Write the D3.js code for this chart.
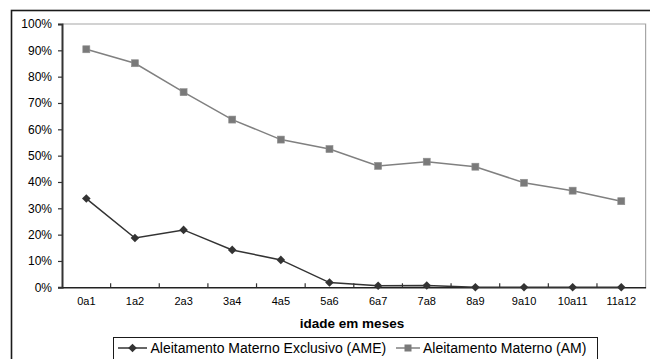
<!DOCTYPE html>
<html>
<head>
<meta charset="utf-8">
<script src="https://cdn.jsdelivr.net/npm/d3@7"></script>
<style>
html,body{margin:0;padding:0;background:#fff;}
svg{display:block;font-family:"Liberation Sans",Arial,sans-serif;}
</style>
</head>
<body>
<svg id="c" width="650" height="359"></svg>
<script>
const categories = ["0a1","1a2","2a3","3a4","4a5","5a6","6a7","7a8","8a9","9a10","10a11","11a12"];
const ameValues = [0.337,0.187,0.218,0.142,0.104,0.018,0.006,0.007,0.0,0.0,0.0,0.0];
const amValues  = [0.904,0.851,0.741,0.637,0.561,0.525,0.461,0.477,0.458,0.397,0.367,0.327];
const yTicks = [0,0.1,0.2,0.3,0.4,0.5,0.6,0.7,0.8,0.9,1.0];
const seriesNames = ["Aleitamento Materno Exclusivo (AME)","Aleitamento Materno (AM)"];
const xTitle = "idade em meses";

const svg = d3.select("#c");
const L = 62, R = 645.6, T = 24, B = 287.3;
const x = d3.scaleBand().domain(categories).range([L, R]).padding(0);
const y = d3.scaleLinear().domain([0,1]).range([B, T]);

// outer frame
svg.append("rect").attr("x",11.5).attr("y",10.5).attr("width",700).attr("height",400)
  .attr("fill","none").attr("stroke","#1a1a1a").attr("stroke-width",1.6);

// plot area border (top & right)
svg.append("path").attr("d",`M${L},${T}H${R}V${B}`).attr("fill","none")
  .attr("stroke","#a6a6a6").attr("stroke-width",1.2);

// y axis
const yAxis = svg.append("g").attr("transform",`translate(${L},0)`)
  .call(d3.axisLeft(y).tickValues(yTicks).tickSize(4).tickPadding(6).tickFormat(d3.format(".0%")));
yAxis.select(".domain").attr("stroke","#333").attr("stroke-width",2);
yAxis.selectAll(".tick line").attr("stroke","#333").attr("stroke-width",1.2);
yAxis.selectAll("text").attr("font-size","12px").attr("fill","#000").attr("font-family","Liberation Sans, Arial, sans-serif");

// x axis
const xAxis = svg.append("g").attr("transform",`translate(0,${B})`)
  .call(d3.axisBottom(x).tickSize(0).tickPadding(10));
xAxis.select(".domain").attr("stroke","#222").attr("stroke-width",1.6);
xAxis.selectAll("text").attr("font-size","11px").attr("fill","#000").attr("font-family","Liberation Sans, Arial, sans-serif");
// boundary ticks pointing up
const bounds = categories.slice(1).map(c => x(c));
svg.append("g").selectAll("line").data(bounds).join("line")
  .attr("x1",d=>d).attr("x2",d=>d).attr("y1",B).attr("y2",B-4)
  .attr("stroke","#333").attr("stroke-width",1.2);

// x title
svg.append("text").attr("x",352).attr("y",328).attr("text-anchor","middle")
  .attr("font-size","13.5px").attr("font-weight","bold").text(xTitle);

const cx = d => x(d) + x.bandwidth()/2;
const line = vals => d3.line().x((d,i)=>cx(categories[i])).y(d=>y(d))(vals);

// AM series
svg.append("path").attr("d",line(amValues)).attr("fill","none").attr("stroke","#808080").attr("stroke-width",1.5);
svg.append("g").selectAll("rect").data(amValues).join("rect")
  .attr("x",(d,i)=>cx(categories[i])-3.5).attr("y",d=>y(d)-3.5)
  .attr("width",7).attr("height",7).attr("fill","#7a7a7a").attr("stroke","#909090").attr("stroke-width",0.6);

// AME series
svg.append("path").attr("d",line(ameValues)).attr("fill","none").attr("stroke","#333").attr("stroke-width",1.5);
const diamond = (px,py,r) => `M${px},${py-r}L${px+r},${py}L${px},${py+r}L${px-r},${py}Z`;
svg.append("g").selectAll("path").data(ameValues).join("path")
  .attr("d",(d,i)=>diamond(cx(categories[i]), y(d), 4.3)).attr("fill","#333");

// legend
svg.append("rect").attr("x",113.5).attr("y",337.5).attr("width",484).attr("height",40)
  .attr("fill","#fff").attr("stroke","#1a1a1a").attr("stroke-width",1);
const ly = 348;
svg.append("line").attr("x1",118).attr("x2",147).attr("y1",ly).attr("y2",ly).attr("stroke","#333").attr("stroke-width",1.5);
svg.append("path").attr("d",diamond(132.5,ly,4.3)).attr("fill","#333");
svg.append("text").attr("x",150.5).attr("y",ly+5).attr("font-size","14px").text(seriesNames[0]);
svg.append("line").attr("x1",396).attr("x2",420).attr("y1",ly).attr("y2",ly).attr("stroke","#808080").attr("stroke-width",1.5);
svg.append("rect").attr("x",404.5).attr("y",ly-3.5).attr("width",7).attr("height",7).attr("fill","#7a7a7a");
svg.append("text").attr("x",423).attr("y",ly+5).attr("font-size","14px").text(seriesNames[1]);
</script>
</body>
</html>
